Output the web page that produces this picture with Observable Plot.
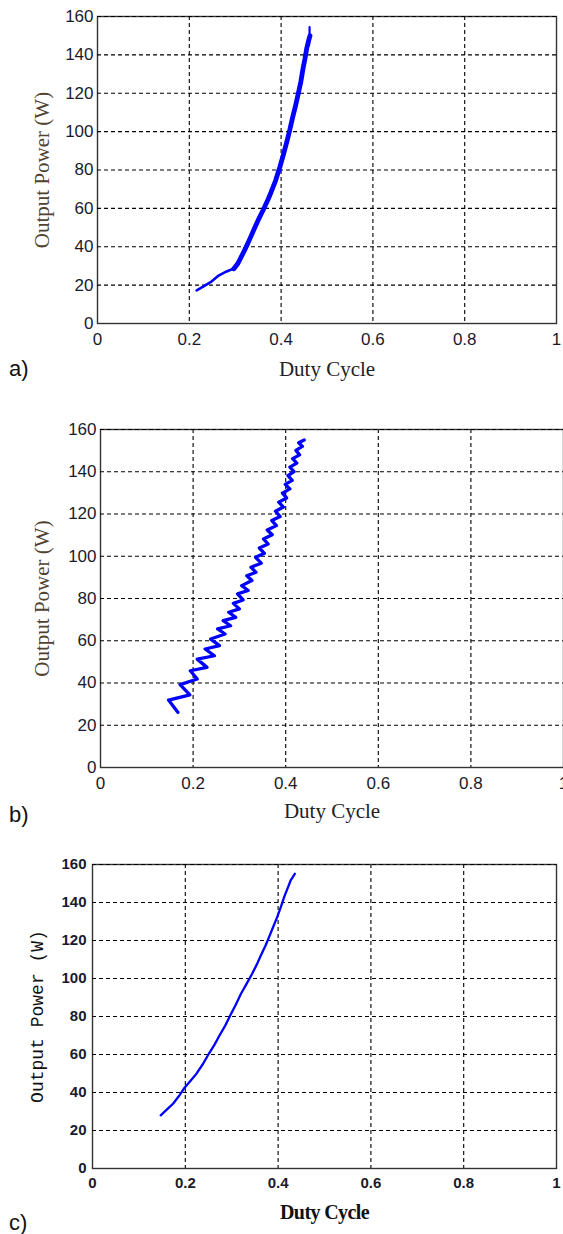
<!DOCTYPE html>
<html><head><meta charset="utf-8">
<script src="https://cdn.jsdelivr.net/npm/d3@7"></script>
<script src="https://cdn.jsdelivr.net/npm/@observablehq/plot@0.6"></script>
<style>
body{margin:0;background:#fff;}
#wrap{position:relative;width:563px;height:1234px;overflow:hidden;background:#fff;}
.panel{position:absolute;left:0;}
.tag{position:absolute;left:9px;font-family:"Liberation Sans",Arial,sans-serif;font-size:22px;color:#111;line-height:1;}
.pab g[aria-label="x-axis label"] text{font-family:"Liberation Serif","Times New Roman",serif !important;font-size:21px !important;fill:#222;}
.pab g[aria-label="y-axis label"] text{font-family:"Liberation Serif","Times New Roman",serif !important;font-size:21px !important;fill:#4f4230;}
.pc g[aria-label="x-axis label"] text{font-family:"Liberation Serif","Times New Roman",serif !important;font-size:20px !important;font-weight:bold !important;fill:#111;letter-spacing:-0.6px;}
.pc g[aria-label="y-axis label"] text{font-family:"Liberation Mono","Courier New" !important;font-size:18px !important;font-weight:normal !important;fill:#111;}
</style>
</head><body>
<div id="wrap"></div>
<script>
const xTicks = [0, 0.2, 0.4, 0.6, 0.8, 1];
const yTicks = [0, 20, 40, 60, 80, 100, 120, 140, 160];
const xLabel = "Duty Cycle";
const yLabel = "Output Power (W)";
const panelTags = ["a)", "b)", "c)"];

// Panel a
const aLowDuty  = [0.216, 0.232, 0.249, 0.264, 0.280, 0.293, 0.300];
const aLowPower = [17.3, 19.5, 22.0, 25.0, 27.0, 28.3, 29.0];
const aHighDuty  = [0.297, 0.305, 0.311, 0.319, 0.327, 0.335, 0.343, 0.352, 0.362, 0.370, 0.378, 0.388, 0.397, 0.405, 0.413, 0.419, 0.425, 0.431, 0.437, 0.443, 0.448, 0.452, 0.456, 0.460, 0.463];
const aHighPower = [28.5, 31.0, 33.7, 37.5, 41.5, 45.8, 50.2, 54.8, 59.7, 63.8, 68.3, 74.5, 81.3, 88.0, 95.2, 101.0, 107.3, 113.0, 119.4, 126.0, 133.2, 138.0, 143.6, 147.5, 150.0];
const aTipDuty  = [0.461, 0.462, 0.462];
const aTipPower = [145.0, 150.0, 154.5];

// Panel b (oscillating trajectory)
const bDuty  = [0.167, 0.147, 0.193, 0.172, 0.209, 0.194, 0.230, 0.209, 0.246, 0.226, 0.257, 0.238, 0.269, 0.253, 0.281, 0.265, 0.292, 0.277, 0.300, 0.287, 0.308, 0.296, 0.319, 0.305, 0.327, 0.316, 0.336, 0.325, 0.347, 0.335, 0.354, 0.343, 0.362, 0.352, 0.371, 0.360, 0.380, 0.370, 0.388, 0.378, 0.395, 0.385, 0.402, 0.393, 0.409, 0.399, 0.414, 0.405, 0.418, 0.409, 0.424, 0.415, 0.430, 0.422, 0.436, 0.428, 0.440];
const bPower = [26.1, 31.9, 34.4, 39.2, 41.9, 45.8, 47.4, 51.3, 52.9, 56.1, 57.7, 60.8, 63.2, 65.6, 67.1, 69.5, 71.1, 73.5, 75.1, 77.7, 79.3, 82.2, 83.8, 86.1, 88.5, 90.8, 92.4, 94.8, 96.7, 99.5, 101.4, 103.9, 105.8, 108.2, 110.2, 112.4, 114.5, 116.9, 118.8, 121.3, 123.3, 125.6, 127.6, 129.9, 131.9, 134.0, 135.9, 138.2, 140.1, 142.2, 144.1, 146.2, 148.0, 150.1, 152.0, 153.7, 155.0];

// Panel c (smooth)
const cDuty  = [0.147, 0.160, 0.174, 0.186, 0.197, 0.210, 0.224, 0.238, 0.251, 0.263, 0.274, 0.286, 0.297, 0.309, 0.320, 0.332, 0.344, 0.354, 0.363, 0.373, 0.382, 0.390, 0.398, 0.406, 0.413, 0.420, 0.427, 0.432, 0.436];
const cPower = [28.0, 31.0, 34.2, 38.0, 42.1, 45.8, 49.9, 55.0, 60.5, 65.2, 70.1, 75.2, 80.6, 86.3, 92.0, 97.2, 102.5, 107.3, 112.2, 117.4, 122.7, 127.5, 132.3, 137.7, 142.8, 147.2, 151.6, 153.5, 155.1];

const toRows = (xs, ys) => xs.map((d, i) => ({duty: d, power: ys[i]}));
const fmt = d => String(d);

const wrap = document.getElementById("wrap");

function makePanel(cfg) {
  const grid = [
    Plot.ruleX(xTicks.filter(d => d > 0 && d < 1), {stroke: "#000", strokeWidth: 1.1, strokeDasharray: "4,3"}),
    Plot.frame({stroke: "#333", strokeWidth: 1.4}),
    Plot.ruleY(yTicks.filter(d => d > 0), {stroke: "#000", strokeWidth: 1.1, strokeDasharray: "4,3"})
  ];
  const axes = [
    Plot.axisX(xTicks, {tickSize: 0, tickPadding: cfg.xPad, tickFormat: fmt, fontSize: cfg.tickSize, fontFamily: cfg.tickFont, fontWeight: cfg.tickWeight, fill: "#1a1a2a",
      label: xLabel, labelAnchor: "center", labelArrow: "none", labelOffset: cfg.xLabelOffset}),
    Plot.axisY(yTicks, {tickSize: 0, tickPadding: cfg.yPad, tickFormat: fmt, fontSize: cfg.tickSize, fontFamily: cfg.tickFont, fontWeight: cfg.tickWeight, fill: "#1a1a2a",
      label: yLabel, labelAnchor: "center", labelArrow: "none", labelOffset: cfg.yLabelOffset})
  ];
  const svg = Plot.plot({
    width: 563, height: cfg.height,
    marginTop: cfg.mt, marginBottom: cfg.mb, marginLeft: cfg.ml, marginRight: cfg.mr,
    className: cfg.cls,
    x: {domain: [0, 1]},
    y: {domain: [0, 160]},
    style: {background: "transparent", overflow: "visible"},
    marks: [...grid, ...axes, ...cfg.lines]
  });
  svg.classList.add("panel");
  svg.style.top = cfg.top + "px";
  svg.style.position = "absolute";
  wrap.appendChild(svg);
  const tag = document.createElement("div");
  tag.className = "tag";
  tag.textContent = cfg.tag;
  tag.style.top = cfg.tagTop + "px";
  wrap.appendChild(tag);
}

const blue = "#0000ff";

makePanel({
  top: 0, height: 390, mt: 16, mb: 67, ml: 97, mr: 7, cls: "pab",
  tickFont: "Liberation Sans, Arial, sans-serif", tickSize: 17, tickWeight: "normal",
  xPad: 9, yPad: 4, xLabelOffset: 52, yLabelOffset: 63,
  tag: panelTags[0], tagTop: 358,
  lines: [
    Plot.line(toRows(aLowDuty, aLowPower), {x: "duty", y: "power", stroke: blue, strokeWidth: 2.6}),
    Plot.line(toRows(aHighDuty, aHighPower), {x: "duty", y: "power", stroke: blue, strokeWidth: 4.8}),
    Plot.line(toRows(aTipDuty, aTipPower), {x: "duty", y: "power", stroke: blue, strokeWidth: 2.2})
  ]
});

makePanel({
  top: 400, height: 430, mt: 29, mb: 63, ml: 100, mr: 0, cls: "pab",
  tickFont: "Liberation Sans, Arial, sans-serif", tickSize: 17, tickWeight: "normal",
  xPad: 9, yPad: 4, xLabelOffset: 50, yLabelOffset: 66,
  tag: panelTags[1], tagTop: 804,
  lines: [
    Plot.line(toRows(bDuty, bPower), {x: "duty", y: "power", stroke: blue, strokeWidth: 3.3})
  ]
});

makePanel({
  top: 835, height: 399, mt: 29, mb: 66, ml: 92, mr: 7, cls: "pc",
  tickFont: "Liberation Sans, Arial, sans-serif", tickSize: 15, tickWeight: "bold",
  xPad: 9, yPad: 6, xLabelOffset: 50, yLabelOffset: 62,
  tag: panelTags[2], tagTop: 1212,
  lines: [
    Plot.line(toRows(cDuty, cPower), {x: "duty", y: "power", stroke: blue, strokeWidth: 2.3})
  ]
});
</script>
</body></html>
